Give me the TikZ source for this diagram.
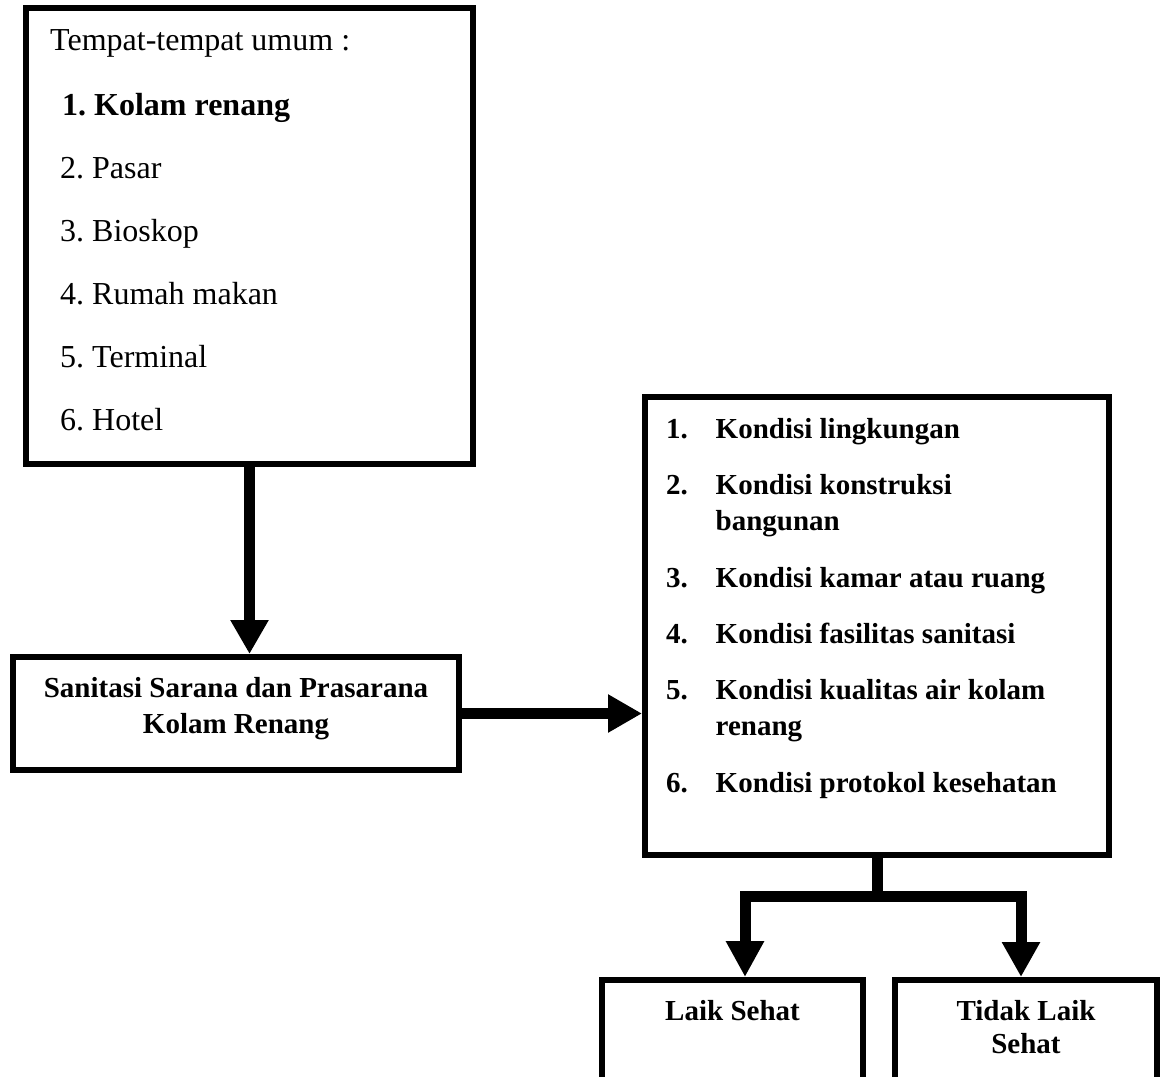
\documentclass[tikz,border=0pt]{standalone}
\usepackage{fontspec}
\setmainfont{Liberation Serif}
\usetikzlibrary{arrows.meta}
\frenchspacing
\begin{document}
\begin{tikzpicture}[x=1pt,y=-1pt,
  box/.style={draw, line width=6pt, rectangle, inner sep=0pt},
  fat/.style={line width=11pt, line join=miter},
  big/.style={font=\frenchspacing\fontsize{32}{38}\selectfont, inner sep=0pt, anchor=base west},
  bigb/.style={font=\frenchspacing\bfseries\fontsize{32}{38}\selectfont, inner sep=0pt, anchor=base west},
  lbl/.style={font=\frenchspacing\bfseries\fontsize{29}{35}\selectfont, inner sep=0pt},
  tip/.style={-{Triangle[width=36pt,length=34pt]}}]
\path[use as bounding box] (0,0) rectangle (1166,1076);
\clip (0,0) rectangle (1166,1076);
% boxes
\node[box, minimum width=447pt, minimum height=456pt] (top) at (249.5,236) {};
\node[box, minimum width=446pt, minimum height=113pt] (mid) at (236,713.5) {};
\node[box, minimum width=464pt, minimum height=458pt] (right) at (877,626) {};
\node[box, minimum width=261pt, minimum height=140pt, anchor=north] (laik) at (732.5,977) {};
\node[box, minimum width=262pt, minimum height=140pt, anchor=north] (tidak) at (1026,977) {};
% top box text
\node[big]  (t0) at (50,50)  {Tempat-tempat umum :};
\node[bigb] (t1) at (62,115) {1. Kolam renang};
\node[big]  (t2) at (60,178) {2. Pasar};
\node[big]  (t3) at (60,241) {3. Bioskop};
\node[big]  (t4) at (60,304) {4. Rumah makan};
\node[big]  (t5) at (60,367) {5. Terminal};
\node[big]  (t6) at (60,430) {6. Hotel};
% middle box text
\node[lbl, anchor=base] (m1) at (236,697) {Sanitasi Sarana dan Prasarana};
\node[lbl, anchor=base] (m2) at (236,733) {Kolam Renang};
% right box text
\begin{scope}[every node/.style={lbl, anchor=base west}]
\node (n1) at (666,438.5) {1.}; \node (r1) at (715.5,438.5) {Kondisi lingkungan};
\node (n2) at (666,494) {2.};   \node (r2) at (715.5,494) {Kondisi konstruksi};
\node (r2b) at (715.5,530) {bangunan};
\node (n3) at (666,587) {3.};   \node (r3) at (715.5,587) {Kondisi kamar atau ruang};
\node (n4) at (666,643) {4.};   \node (r4) at (715.5,643) {Kondisi fasilitas sanitasi};
\node (n5) at (666,699) {5.};   \node (r5) at (715.5,699) {Kondisi kualitas air kolam};
\node (r5b) at (715.5,735) {renang};
\node (n6) at (666,792) {6.};   \node (r6) at (715.5,792) {Kondisi protokol kesehatan};
\end{scope}
% bottom texts
\node[lbl, anchor=base] (l1) at (732.5,1020) {Laik Sehat};
\node[lbl, anchor=base] (d1) at (1026,1020) {Tidak Laik};
\node[lbl, anchor=base] (d2) at (1026,1053) {Sehat};
% connectors
\draw[fat, tip] (top.south) -- (top.south |- mid.north);
\draw[fat, tip] (mid.east) -- (mid.east -| right.west);
\coordinate (jl) at (745,896);
\coordinate (jr) at (1021,896);
\draw[fat] (right.south) -- (right.south |- jl);
\draw[fat, {Triangle[width=36pt,length=36pt]}-{Triangle[width=36pt,length=35pt]}]
  (jl |- laik.north) -- (jl) -- (jr) -- (jr |- tidak.north);
\end{tikzpicture}
\end{document}
